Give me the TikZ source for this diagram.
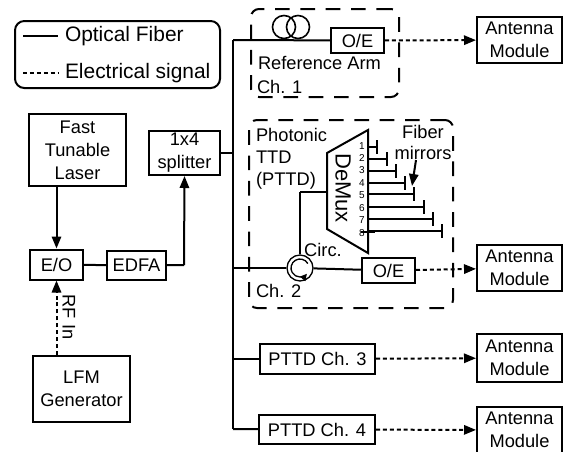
\documentclass[tikz,border=0pt]{standalone}
\usepackage{fontspec}
\setmainfont{Liberation Sans}
\usepackage{tikz}
\usetikzlibrary{arrows.meta}
\usetikzlibrary{backgrounds}
\def\px{0.75pt}
\begin{document}
\begin{tikzpicture}[x=0.75pt,y=-0.75pt,>={Triangle[length=9pt,width=7pt]},
	line width=1.5pt,
	box node/.style={rectangle,draw,align=center,inner sep=0pt,font=\fontsize{13.7}{17.25}\selectfont},
	text node/.style={anchor=west,inner sep=0pt,font=\fontsize{13.7}{17.25}\selectfont},
	legend text/.style={anchor=west,inner sep=0pt,font=\fontsize{15.7}{19}\selectfont},
	num node/.style={inner sep=0pt,font=\fontsize{7.5}{9}\selectfont},
	dash box/.style={rectangle,draw,rounded corners=6pt,inner sep=0pt,dash pattern=on 11pt off 8pt},
	elec/.style={dash pattern=on 3pt off 2.2pt},
	mirror/.style={-{Bar[width=10.5pt,line width=1.5pt]}}
	]
	\useasboundingbox (0,0) rectangle (563,451);
	
	% legend
	\node[rectangle,draw,rounded corners=7pt,minimum width=205*\px,minimum height=67*\px] (legend) at (117.5,54.5) {};
	\coordinate (fibA) at (23,36);
	\coordinate (fibB) at (58,36);
	\coordinate (elecA) at (23,73);
	\coordinate (elecB) at (58,73);
	\node[legend text] (fibtext) at (64,36) {Optical Fiber};
	\node[legend text] (electext) at (64,73) {Electrical signal};
	
	% left side
	\node[box node,minimum width=97*\px,minimum height=72*\px] (laser) at (77.5,150) {Fast\\Tunable\\Laser};
	\node[box node,minimum width=71*\px,minimum height=44*\px] (splitter) at (184.5,153) {1x4\\splitter};
	\node[box node,minimum width=53*\px,minimum height=30*\px] (eo) at (56.5,264.5) {E/O};
	\node[box node,minimum width=59*\px,minimum height=29*\px] (edfa) at (136.5,265.5) {EDFA};
	\node[box node,minimum width=97*\px,minimum height=66*\px] (lfm) at (81.5,389) {LFM\\Generator};
	\node[text node,rotate=-90,anchor=center] (rfin) at (69,317) {RF In};
	
	% reference arm
	\node[dash box,minimum width=148*\px,minimum height=88*\px] (refarm) at (325,53) {};
	\node[circle,draw,line width=1.2pt,inner sep=0pt,minimum size=23*\px] (coilA) at (284,27) {};
	\node[circle,draw,line width=1.2pt,inner sep=0pt,minimum size=23*\px] (coilB) at (298,27) {};
	\node[box node,minimum width=53*\px,minimum height=25*\px] (oeA) at (357.5,40.5) {O/E};
	\node[text node] (reftext) at (257,63) {Reference Arm};
	\node[text node] (chA) at (256,87) {Ch. 1};
	
	% photonic TTD
	\node[dash box,minimum width=204*\px,minimum height=188*\px] (pttd) at (351,214) {};
	\node[text node] (photonic) at (255,135) {Photonic};
	\node[text node] (ttd) at (255,157) {TTD};
	\node[text node] (ptext) at (255,181) {(PTTD)};
	\coordinate (dmA) at (327,153);
	\coordinate (dmB) at (368,130);
	\coordinate (dmC) at (368,253);
	\coordinate (dmD) at (327,229);
	\coordinate (dmIn) at (327,192);
	\node[rotate=-90,inner sep=0pt,font=\fontsize{16.5}{20}\selectfont] (demux) at (343,188) {DeMux};
	\node[num node] (nA) at (362,146) {1};
	\node[num node] (nB) at (362,158) {2};
	\node[num node] (nC) at (362,170) {3};
	\node[num node] (nD) at (362,183) {4};
	\node[num node] (nE) at (362,195) {5};
	\node[num node] (nF) at (362,208) {6};
	\node[num node] (nG) at (362,220) {7};
	\node[num node] (nH) at (362,233) {8};
	\coordinate (chOne) at (368,147);
	\coordinate (chTwo) at (368,159);
	\coordinate (chThree) at (368,171);
	\coordinate (chFour) at (368,183);
	\coordinate (chFive) at (368,194);
	\coordinate (chSix) at (368,207);
	\coordinate (chSeven) at (368,219);
	\coordinate (chEight) at (368,231);
	\coordinate (mOne) at (378,147);
	\coordinate (mTwo) at (388,159);
	\coordinate (mThree) at (397,171);
	\coordinate (mFour) at (406,183);
	\coordinate (mFive) at (415,194);
	\coordinate (mSix) at (425,207);
	\coordinate (mSeven) at (434,219);
	\coordinate (mEight) at (443,231);
	\node[text node,anchor=center] (fibertext) at (423,132) {Fiber};
	\node[text node,anchor=center] (mirrortext) at (423,153) {mirrors};
	\coordinate (mirrorarrow) at (416,160);
	\coordinate (mirrortip) at (412,186);
	\node[circle,draw,line width=1pt,inner sep=0pt,minimum size=26*\px] (circ) at (300,268) {};
	\node[text node,anchor=center] (circtext) at (323,250) {Circ.};
	\node[box node,minimum width=53*\px,minimum height=25*\px] (oeB) at (388.5,270.5) {O/E};
	\node[text node] (chB) at (255,291) {Ch. 2};
	
	% lower channels
	\node[box node,minimum width=115*\px,minimum height=30*\px] (pttdC) at (317.5,359) {PTTD Ch. 3};
	\node[box node,minimum width=116*\px,minimum height=29*\px] (pttdD) at (317,429.5) {PTTD Ch. 4};
	
	% antennas
	\node[box node,minimum width=85*\px,minimum height=46*\px] (antA) at (519.5,40) {Antenna\\Module};
	\node[box node,minimum width=85*\px,minimum height=46*\px] (antB) at (519.5,268) {Antenna\\Module};
	\node[box node,minimum width=85*\px,minimum height=48*\px] (antC) at (519.5,358) {Antenna\\Module};
	\node[box node,minimum width=85*\px,minimum height=46*\px] (antD) at (519.5,430) {Antenna\\Module};
	
	\coordinate (busTop) at (233,40);
	\coordinate (busSplit) at (233,153);
	\coordinate (busCirc) at (233,268);
	\coordinate (busC) at (233,359);
	\coordinate (busD) at (233,429);
	\coordinate (edfaUp) at (184,265);
	\coordinate (demuxDown) at (300,192);
	
	\begin{scope}[on background layer={line width=1.5pt}]
	\draw (fibA) -- (fibB);
	\draw[elec] (elecA) -- (elecB);
	\draw[line join=miter] (dmA) -- (dmB) -- (dmC) -- (dmD) -- cycle;
	\path[draw]
	(laser.south -| eo) edge[->] (eo)
	(eo) edge (edfa)
	(edfa) edge (edfaUp)
	(edfaUp) edge[->] (splitter.south)
	(splitter) edge (busSplit)
	(busTop) edge (busD)
	(busTop) edge (oeA)
	(busCirc) edge (circ)
	(circ) edge (oeB)
	(circ) edge (demuxDown)
	(demuxDown) edge (dmIn)
	(busC) edge (pttdC)
	(busD) edge (pttdD)
	(mirrorarrow) edge[->] (mirrortip)
	;
	\path[draw,mirror]
	(chOne) edge (mOne)
	(chTwo) edge (mTwo)
	(chThree) edge (mThree)
	(chFour) edge (mFour)
	(chFive) edge (mFive)
	(chSix) edge (mSix)
	(chSeven) edge (mSeven)
	(chEight) edge (mEight)
	;
	\path[draw,elec]
	(lfm.north -| eo) edge[->] (eo)
	(oeA) edge[->] (antA)
	(oeB) edge[->] (antB)
	(pttdC) edge[->] (antC)
	(pttdD) edge[->] (antD)
	;
	\end{scope}
	% circulator arrow
	\draw[line width=1pt,-{Triangle[length=5pt,width=5pt]}] (circ.center) ++(-30:9) arc (-30:-320:9);
	\end{tikzpicture}
\end{document}
